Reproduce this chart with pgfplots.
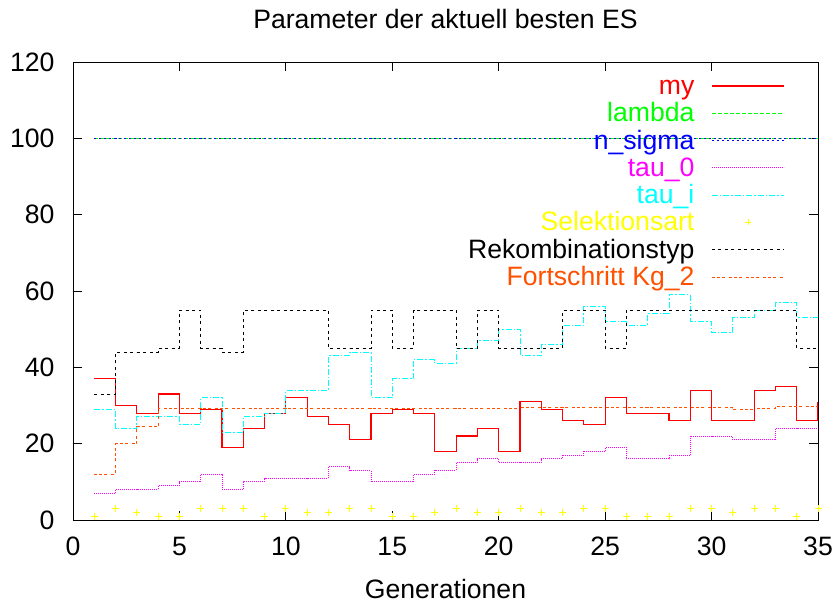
\documentclass[border=0pt]{standalone}
\usepackage{pgfplots}
\pgfplotsset{compat=1.18}
\usepackage{fontspec}
\setmainfont{Liberation Sans}
\definecolor{cRed}{RGB}{255,0,0}
\definecolor{cGreen}{RGB}{0,255,0}
\definecolor{cBlue}{RGB}{0,0,255}
\definecolor{cMag}{RGB}{255,0,255}
\definecolor{cCyan}{RGB}{0,255,255}
\definecolor{cYel}{RGB}{255,255,0}
\definecolor{cOra}{RGB}{255,80,0}
\pgfplotsset{
  lineleg/.style={legend image code/.code={\draw[##1] (0bp,1.5bp) -- (72bp,1.5bp);}},
  markleg/.style={legend image code/.code={\path (0bp,1.5bp) (72bp,1.5bp); \draw[##1, mark size=3bp] plot coordinates {(36bp,1.5bp)};}},
}
\begin{document}
\begin{tikzpicture}
\useasboundingbox (-73bp,-84bp) rectangle (764bp,520bp);
\begin{axis}[
  at={(0,0)}, anchor=south west,
  scale only axis, width=745bp, height=458bp,
  font=\fontsize{26.6bp}{31bp}\selectfont,
  /pgf/number format/assume math mode=true,
  xmin=0, xmax=35, ymin=0, ymax=120,
  xtick={0,5,...,35}, ytick={0,20,...,120},
  tick align=inside, xtick pos=both, ytick pos=both,
  major tick length=9bp,
  every tick/.style={black, line width=0.8bp},
  axis line style={black, line width=0.9bp},
  xticklabel style={inner sep=0pt, anchor=base, yshift=-35bp},
  yticklabel style={inner sep=0pt, anchor=east, xshift=-18bp},
  title={Parameter der aktuell besten ES},
  title style={at={(0.5,1)}, anchor=base, inner sep=0pt, yshift=27.7bp},
  xlabel={Generationen},
  xlabel style={at={(0.5,0)}, anchor=base, inner sep=0pt, yshift=-78.3bp},
  legend plot pos=right,
  legend cell align=right,
  legend style={at={(1,1)}, anchor=north east, xshift=-33bp, yshift=-12.5bp,
    draw=none, fill=none, inner sep=0pt, row sep=2.3bp, column sep=17bp,
    nodes={inner sep=0pt, text height=19.5bp, text depth=5.5bp}},
  lineleg,
  line width=1bp,
]
\addplot[cRed, const plot, solid, line width=1.1bp] coordinates {
(1,37)(2,30)(3,28)(4,33)(5,28)(6,29)(7,19)(8,24)(9,28)(10,32)
(11,27)(12,25)(13,21)(14,28)(15,29)(16,28)(17,18)(18,22)(19,24)(20,18)
(21,31)(22,29)(23,26)(24,25)(25,32)(26,28)(27,28)(28,26)(29,34)(30,26)
(31,26)(32,34)(33,35)(34,26)(35,31)};
\addlegendentry{\textcolor{cRed}{my}}
\addplot[cGreen, const plot, dash pattern=on 4bp off 2bp] coordinates {
(1,100)(2,100)(3,100)(4,100)(5,100)(6,100)(7,100)(8,100)(9,100)(10,100)
(11,100)(12,100)(13,100)(14,100)(15,100)(16,100)(17,100)(18,100)(19,100)(20,100)
(21,100)(22,100)(23,100)(24,100)(25,100)(26,100)(27,100)(28,100)(29,100)(30,100)
(31,100)(32,100)(33,100)(34,100)(35,100)};
\addlegendentry{\textcolor{cGreen}{lambda}}
\addplot[cBlue, const plot, dash pattern=on 2bp off 3bp] coordinates {
(1,100)(2,100)(3,100)(4,100)(5,100)(6,100)(7,100)(8,100)(9,100)(10,100)
(11,100)(12,100)(13,100)(14,100)(15,100)(16,100)(17,100)(18,100)(19,100)(20,100)
(21,100)(22,100)(23,100)(24,100)(25,100)(26,100)(27,100)(28,100)(29,100)(30,100)
(31,100)(32,100)(33,100)(34,100)(35,100)};
\addlegendentry{\textcolor{cBlue}{n\_sigma}}
\addplot[cMag, const plot, dash pattern=on 1bp off 1bp] coordinates {
(1,7)(2,8)(3,8)(4,9)(5,10)(6,12)(7,8)(8,10)(9,11)(10,11)
(11,11)(12,14)(13,13)(14,10)(15,10)(16,12)(17,13)(18,15)(19,16)(20,15)
(21,15)(22,16)(23,17)(24,18)(25,19)(26,16)(27,16)(28,17)(29,22)(30,22)
(31,21)(32,21)(33,24)(34,24)(35,23)};
\addlegendentry{\textcolor{cMag}{tau\_0}}
\addplot[cCyan, const plot, dash pattern=on 6bp off 2bp on 1.5bp off 2bp] coordinates {
(1,29)(2,24)(3,27)(4,27)(5,25)(6,32)(7,23)(8,27)(9,28)(10,34)
(11,34)(12,43)(13,44)(14,32)(15,37)(16,42)(17,41)(18,45)(19,47)(20,50)
(21,43)(22,46)(23,51)(24,56)(25,52)(26,51)(27,54)(28,59)(29,52)(30,49)
(31,53)(32,55)(33,57)(34,53)(35,54)};
\addlegendentry{\textcolor{cCyan}{tau\_i}}
\addplot[cYel, only marks, mark=+, mark size=3.5bp, line width=0.9bp, markleg] coordinates {
(1,1)(2,3)(3,2)(4,1)(5,1)(6,3)(7,3)(8,3)(9,1)(10,3)
(11,2)(12,2)(13,3)(14,3)(15,1)(16,1)(17,2)(18,3)(19,2)(20,2)
(21,3)(22,2)(23,2)(24,3)(25,3)(26,1)(27,1)(28,1)(29,3)(30,3)
(31,2)(32,3)(33,3)(34,1)(35,3)};
\addlegendentry{\textcolor{cYel}{Selektionsart}}
\addplot[black, const plot, dash pattern=on 3bp off 3.5bp] coordinates {
(1,33)(2,44)(3,44)(4,45)(5,55)(6,45)(7,44)(8,55)(9,55)(10,55)
(11,55)(12,45)(13,45)(14,55)(15,45)(16,55)(17,55)(18,45)(19,55)(20,45)
(21,45)(22,45)(23,55)(24,55)(25,45)(26,55)(27,55)(28,55)(29,55)(30,55)
(31,55)(32,55)(33,55)(34,45)(35,45)};
\addlegendentry{\textcolor{black}{Rekombinationstyp}}
\addplot[cOra, const plot, dash pattern=on 3bp off 2bp on 3bp off 2bp on 3bp off 4bp] coordinates {
(1,12)(2,20)(3,24.5)(4,29.3)(5,29.3)(6,29.3)(7,29.3)(8,29.3)(9,29.3)(10,29.3)
(11,29.3)(12,29.3)(13,29.3)(14,29.3)(15,29.3)(16,29.3)(17,29.3)(18,29.3)(19,29.3)(20,29.3)
(21,29.4)(22,29.4)(23,29.4)(24,29.4)(25,29.4)(26,29.4)(27,29.4)(28,29.4)(29,29.4)(30,29.4)
(31,29.0)(32,29.2)(33,29.7)(34,29.7)(35,29.7)};
\addlegendentry{\textcolor{cOra}{Fortschritt Kg\_2}}
\end{axis}
\end{tikzpicture}
\end{document}
